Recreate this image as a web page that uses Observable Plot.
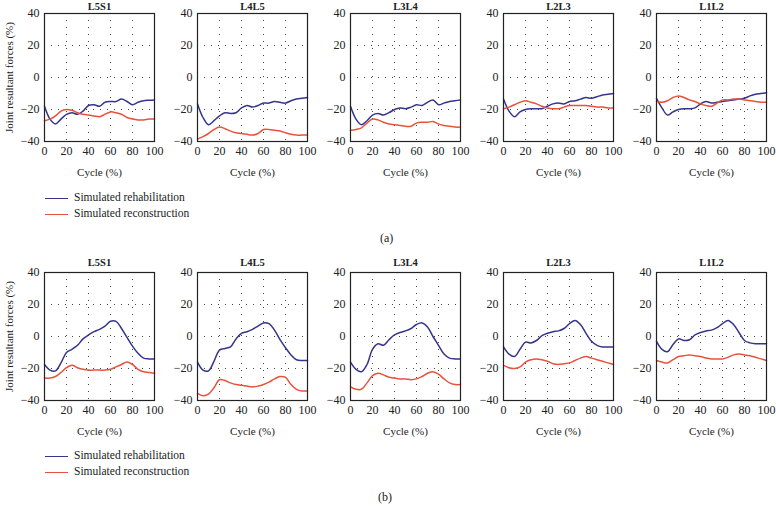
<!DOCTYPE html>
<html><head><meta charset="utf-8">
<script src="https://cdn.jsdelivr.net/npm/d3@7"></script>
<script src="https://cdn.jsdelivr.net/npm/@observablehq/plot@0.6"></script>
<style>
body{margin:0;background:#fff;}
#root{position:relative;width:776px;height:515px;overflow:hidden;font-family:"Liberation Serif","DejaVu Serif",serif;color:#222;}
.panel{position:absolute;}
.leg{position:absolute;font-size:11.5px;line-height:14px;white-space:nowrap;}
.leg span.sw{display:inline-block;width:23px;height:0;border-top:1.5px solid;vertical-align:middle;margin-right:6px;}
.lab{position:absolute;font-size:12px;}
</style></head><body><div id="root"></div>
<script>
const cycle = [0,5,10,15,20,25,30,35,40,45,50,55,60,65,70,75,80,85,90,95,100];
const segments = ["L5S1","L4L5","L3L4","L2L3","L1L2"];
const xTicks = [0,20,40,60,80,100];
const yTicks = [-40,-20,0,20,40];
const seriesNames = ["Simulated rehabilitation","Simulated reconstruction"];
const colors = ["#35358d","#e6533c"];
const rowLabels = ["(a)","(b)"];

// (a) rehabilitation, one array per segment
const rehabA = [
  [-18,-26,-29,-26,-23,-22,-23,-21,-17.5,-17,-18,-15.5,-15,-15,-13.5,-15,-17,-15.5,-14.5,-14.2,-14],
  [-16.5,-25,-29.5,-27,-24,-22,-22.5,-22,-19,-17.5,-18.5,-17.5,-16,-16,-15,-15.5,-16,-14.5,-13.5,-13,-12.5],
  [-18,-26,-29.5,-27,-23.5,-22.5,-23.5,-22,-20,-19,-19.5,-18.5,-17,-17.5,-15.5,-14,-17,-16,-15,-14.5,-14],
  [-13.5,-21,-24.5,-21.5,-20,-19.5,-19.5,-19.5,-18,-16.5,-16,-16.5,-15,-14.5,-13.5,-12.5,-13,-12,-11,-10.5,-10],
  [-13,-19,-23.5,-21.5,-20,-19.5,-19.5,-19,-16.5,-15,-16,-15.5,-15,-14.5,-14,-13.5,-13,-11.5,-10.5,-10,-9.5]
];
// (a) reconstruction
const reconA = [
  [-27,-26,-24,-21,-20,-20.5,-22,-23,-23.5,-24,-24.5,-23,-21.5,-22,-23,-25,-26,-26.5,-26.5,-26,-26],
  [-38.5,-37,-35,-32.5,-31,-32,-33.5,-34.5,-35,-35.5,-36,-35,-32.5,-32.5,-33,-33.5,-34.5,-35.5,-36,-36,-36],
  [-33,-32.5,-31.5,-28.5,-26,-26.5,-28,-29,-29.5,-30,-30.5,-30.5,-28.5,-28,-28,-27.5,-29,-30,-30.5,-31,-31],
  [-19.5,-18.5,-17,-15.5,-14.5,-15.5,-16.5,-18,-19,-19.5,-19.5,-18.5,-17.5,-17.5,-17.5,-17.5,-18,-18.5,-18.5,-19,-19],
  [-15,-15.5,-14.5,-12.5,-11.5,-12.5,-14,-15,-16.5,-17.5,-18,-16,-14,-14,-13.5,-13.5,-14,-14.5,-15,-15.5,-15.5]
];
// (b) rehabilitation
const rehabB = [
  [-17.5,-21,-21.5,-16.5,-10,-8,-5.5,-1.5,1,3,4.5,6.5,9.5,9.5,5,-0.5,-6,-10.5,-13.5,-14,-14],
  [-16,-21,-21.5,-15.5,-8.5,-7.5,-6.5,-1.5,2,3,4.5,6.5,8.5,8,4,-2,-7,-11.5,-14.5,-15,-15],
  [-16,-20.5,-22,-17.5,-8,-4.5,-5.5,-2,1,2.5,3.5,5,7.5,8.5,6,0,-5.5,-11,-13.5,-14,-14],
  [-6.5,-11,-12.5,-8,-3.5,-4,-2.5,0.5,2,3,3.5,5,8,10,7.5,2,-3,-5.5,-6.5,-6.5,-6.5],
  [-3,-8,-9.5,-5,-1.5,-2.5,-2,1,2.5,3.5,4,5.5,8,10,7.5,2.5,-2.5,-4,-4.5,-4.5,-4.5]
];
// (b) reconstruction
const reconB = [
  [-26,-26,-25,-22.5,-19.5,-18,-19.5,-20.5,-21,-21,-21,-21,-20.5,-19,-17.5,-16,-17.5,-20.5,-22,-22.5,-23],
  [-35.5,-37,-36,-32,-27,-27.5,-29,-30,-30.5,-31,-31.5,-31,-30,-28.5,-26.5,-25,-25.5,-30,-33,-34,-34],
  [-31.5,-33,-33,-29,-24.5,-23,-24,-25.5,-26,-26.5,-26.5,-27,-26.5,-25,-23,-22,-23.5,-26.5,-29,-30,-30],
  [-18,-19.5,-20,-19,-16,-14.5,-14,-14.5,-15.5,-17,-17.5,-17,-16.5,-15,-13.5,-12.5,-13.5,-14.5,-15.5,-16.5,-17.5],
  [-15,-16,-16.5,-14.5,-12.5,-12,-11.5,-12,-12.5,-13.5,-14,-14,-14,-13,-11.5,-11,-11.5,-12,-13,-14,-15]
];

const FONT = '"Liberation Serif","DejaVu Serif",serif';
const root = document.getElementById("root");

function panel(seg, rehab, recon, showY, titleDy) {
  const data = [];
  cycle.forEach((c, i) => {
    data.push({cycle: c, value: rehab[i], series: seriesNames[0]});
    data.push({cycle: c, value: recon[i], series: seriesNames[1]});
  });
  return Plot.plot({
    width: 152, height: 188,
    marginLeft: 30, marginRight: 12, marginTop: 20, marginBottom: 40,
    style: {fontFamily: FONT, fontSize: "12px", color: "#222", background: "transparent", overflow: "visible"},
    x: {domain: [0, 100], label: null},
    y: {domain: [-40, 40], label: null},
    color: {domain: seriesNames, range: colors},
    marks: [
      Plot.ruleX(xTicks.slice(1, -1), {stroke: "#444", strokeDasharray: "1,6", strokeWidth: 1}),
      Plot.ruleY(yTicks.slice(1, -1), {stroke: "#444", strokeDasharray: "1,6", strokeWidth: 1}),
      Plot.axisX({ticks: xTicks, tickSize: 0, tickPadding: 5, label: null, fontSize: 12}),
      Plot.axisY({ticks: yTicks, tickSize: 0, tickPadding: 5, label: null, fontSize: 12}),
      Plot.line(data, {x: "cycle", y: "value", z: "series", stroke: "series", strokeWidth: 1.5, curve: "catmull-rom"}),
      Plot.frame({stroke: "#222", strokeWidth: 1.2}),
      Plot.text([seg], {frameAnchor: "top", dy: titleDy, fontWeight: "bold", fontSize: 10.5, lineAnchor: "middle"}),
      Plot.text(["Cycle (%)"], {frameAnchor: "bottom", dy: 31, fontSize: 11, lineAnchor: "middle"}),
      showY ? Plot.text(["Joint resultant forces (%)"], {frameAnchor: "left", textAnchor: "middle", lineAnchor: "middle", rotate: -90, dx: -35, fontSize: 11}) : null
    ]
  });
}

const rows = [
  {top: -7, titleDy: -7, rehab: rehabA, recon: reconA, legTop: 190, labTop: 231, labLeft: 380},
  {top: 252, titleDy: -10, rehab: rehabB, recon: reconB, legTop: 448, labTop: 490, labLeft: 378}
];
rows.forEach((row, r) => {
  segments.forEach((seg, i) => {
    const p = panel(seg, row.rehab[i], row.recon[i], i === 0, row.titleDy);
    p.classList.add("panel");
    p.style.left = (14 + 153 * i) + "px";
    p.style.top = row.top + "px";
    root.appendChild(p);
  });
  seriesNames.forEach((name, k) => {
    const d = document.createElement("div");
    d.className = "leg";
    d.style.left = "45px";
    d.style.top = (row.legTop + 16 * k) + "px";
    const sw = document.createElement("span");
    sw.className = "sw";
    sw.style.borderTopColor = colors[k];
    d.appendChild(sw);
    d.appendChild(document.createTextNode(name));
    root.appendChild(d);
  });
  const l = document.createElement("div");
  l.className = "lab";
  l.style.left = row.labLeft + "px";
  l.style.top = row.labTop + "px";
  l.textContent = rowLabels[r];
  root.appendChild(l);
});
</script></body></html>
